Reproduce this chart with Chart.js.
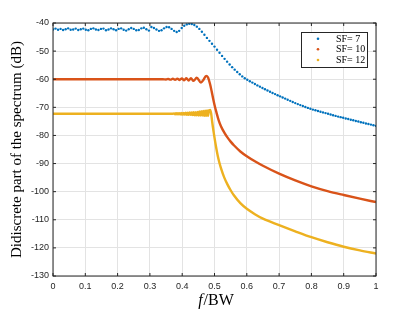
<!DOCTYPE html>
<html>
<head>
<meta charset="utf-8">
<script src="https://cdn.jsdelivr.net/npm/chart.js@4"></script>
<style>
  body { margin: 0; background: #fff; }
  canvas { display: block; }
</style>
</head>
<body>
<canvas id="spectrumChart" width="415" height="312"></canvas>
<script>
// series names and tick labels
const SERIES_LABELS = ['SF= 7', 'SF= 10', 'SF= 12'];
const X_TICK_LABELS = ['0', '0.1', '0.2', '0.3', '0.4', '0.5', '0.6', '0.7', '0.8', '0.9', '1'];
const Y_TICK_LABELS = ['-130', '-120', '-110', '-100', '-90', '-80', '-70', '-60', '-50', '-40'];

// SF = 7 : one dot per frequency bin (129 bins from 0 to 1)
const SF7_DB = [
  -42.3, -42.0, -42.4, -42.1, -42.5, -42.2, -41.9, -42.4, -42.3, -42.0,
  -42.5, -42.2, -42.0, -42.4, -42.6, -42.1, -41.9, -42.3, -42.5, -42.1,
  -42.0, -42.6, -42.3, -41.9, -42.2, -42.6, -42.1, -41.9, -42.4, -42.7,
  -42.2, -41.8, -42.1, -42.6, -42.5, -41.9, -41.7, -42.2, -42.7,
  -41.4, -41.8, -42.3, -42.8, -42.6, -41.9, -41.4, -41.5, -42.1, -42.8,
  -43.2, -42.8, -41.8, -41.0, -40.5, -40.3, -40.4, -40.7, -41.3, -42.1,
  -43.1, -44.2, -45.3, -46.35, -47.4,
  -48.4, -49.5, -50.6, -51.7, -52.75, -53.75, -54.75, -55.7, -56.6, -57.45,
  -58.25, -59.0, -59.65, -60.2, -60.7, -61.2, -61.7, -62.2, -62.65, -63.1,
  -63.55, -64.0, -64.45, -64.9, -65.3, -65.7, -66.1, -66.5, -66.9, -67.3,
  -67.7, -68.1, -68.5, -68.85, -69.2, -69.55, -69.9, -70.2, -70.5, -70.8,
  -71.05, -71.3, -71.55, -71.8, -72.05, -72.3, -72.55, -72.8, -73.05, -73.3,
  -73.5, -73.7, -73.95, -74.15, -74.4, -74.6, -74.85, -75.05, -75.3, -75.5,
  -75.75, -75.95, -76.15, -76.4, -76.6
];
const SF7_BINS = 128;

// SF = 10
const SF10_F = [0, 0.1, 0.2, 0.3, 0.34, 0.35, 0.357, 0.364, 0.371, 0.378, 0.385, 0.392, 0.399,
  0.406, 0.413, 0.42, 0.427, 0.435, 0.445, 0.458, 0.466, 0.474, 0.48, 0.486, 0.491, 0.496,
  0.501, 0.506, 0.513, 0.52, 0.53, 0.54, 0.55, 0.56, 0.58, 0.6, 0.625, 0.65, 0.7, 0.75,
  0.8, 0.85, 0.9, 0.95, 1.0];
const SF10_DB = [-60, -60, -60, -60, -60, -60.1, -59.9, -60.15, -59.85, -60.2, -59.8, -60.25, -59.75,
  -60.35, -59.65, -60.45, -59.6, -60.6, -59.5, -61.2, -60.2, -58.8, -59.4, -61.6, -64.2, -67.0,
  -69.6, -71.8, -74.6, -76.7, -78.9, -80.7, -82.2, -83.5, -85.7, -87.4, -89.2, -90.8, -93.6, -96.0,
  -98.1, -99.8, -101.2, -102.5, -103.7];

// SF = 12
const SF12_F = [0, 0.1, 0.2, 0.3, 0.37,
  0.375, 0.378, 0.381, 0.384, 0.387, 0.39, 0.393, 0.396, 0.399, 0.402, 0.405, 0.408,
  0.411, 0.414, 0.417, 0.42, 0.423, 0.426, 0.429, 0.432, 0.435, 0.438, 0.441, 0.444,
  0.447, 0.45, 0.453, 0.456, 0.459, 0.462, 0.465, 0.468, 0.471, 0.474, 0.477, 0.48, 0.483,
  0.487, 0.49, 0.493, 0.497, 0.5, 0.505, 0.51, 0.515, 0.52, 0.53, 0.54, 0.55, 0.56, 0.58,
  0.6, 0.625, 0.65, 0.7, 0.75, 0.8, 0.85, 0.9, 0.95, 1.0];
const SF12_DB = [-72.3, -72.3, -72.3, -72.3, -72.3,
  -72.15, -72.45, -72.1, -72.5, -72.1, -72.5, -72.05, -72.55, -72.0, -72.6, -72.0, -72.6,
  -71.95, -72.65, -71.9, -72.7, -71.85, -72.7, -71.8, -72.75, -71.75, -72.8, -71.7, -72.85,
  -71.6, -72.9, -71.5, -72.9, -71.4, -72.95, -71.3, -73.0, -71.2, -73.0, -71.1, -73.0, -71.0,
  -70.9, -72.5, -75.3, -78.5, -80.8, -84.2, -87.2, -89.6, -91.6, -94.9, -97.4, -99.5, -101.3, -104.1,
  -106.1, -108.0, -109.6, -111.9, -114.1, -116.2, -118.0, -119.6, -120.9, -122.0];

const COLORS = ['#0072BD', '#D95319', '#EDB120'];
const AXIS_COLOR = '#262626';

const sf7Points = SF7_DB.map((v, i) => ({ x: i / SF7_BINS, y: v }));
const sf10Points = SF10_F.map((f, i) => ({ x: f, y: SF10_DB[i] }));
const sf12Points = SF12_F.map((f, i) => ({ x: f, y: SF12_DB[i] }));

// frame with inward ticks, axis titles and the boxed legend (MATLAB look)
const matlabFrame = {
  id: 'matlabFrame',
  afterDatasetsDraw(chart) {
    const { ctx, chartArea: a, scales } = chart;
    ctx.save();
    ctx.strokeStyle = AXIS_COLOR;
    ctx.lineWidth = 1;
    ctx.strokeRect(a.left, a.top, a.right - a.left, a.bottom - a.top);
    const tl = 3;
    ctx.beginPath();
    scales.x.ticks.forEach(t => {
      const px = scales.x.getPixelForValue(t.value);
      ctx.moveTo(px, a.bottom); ctx.lineTo(px, a.bottom - tl);
      ctx.moveTo(px, a.top); ctx.lineTo(px, a.top + tl);
    });
    scales.y.ticks.forEach(t => {
      const py = scales.y.getPixelForValue(t.value);
      ctx.moveTo(a.left, py); ctx.lineTo(a.left + tl, py);
      ctx.moveTo(a.right, py); ctx.lineTo(a.right - tl, py);
    });
    ctx.stroke();

    // axis titles
    ctx.fillStyle = '#000';
    ctx.textBaseline = 'middle';
    const cx = (a.left + a.right) / 2;
    ctx.font = 'italic 16px "Liberation Serif"';
    const fW = ctx.measureText('f').width;
    ctx.font = '16px "Liberation Serif"';
    const restW = ctx.measureText('/BW').width;
    const x0 = cx - (fW + restW) / 2 + 1;
    ctx.font = 'italic 16px "Liberation Serif"';
    ctx.textAlign = 'left';
    ctx.fillText('f', x0, 301);
    ctx.font = '16px "Liberation Serif"';
    ctx.fillText('/BW', x0 + fW + 1, 301);

    ctx.save();
    ctx.translate(17, (a.top + a.bottom) / 2);
    ctx.rotate(-Math.PI / 2);
    ctx.textAlign = 'center';
    ctx.font = '15px "Liberation Serif"';
    ctx.fillText('Didiscrete part of the spectrum (dB)', 0, 0);
    ctx.restore();

    // legend
    const bx = 301, by = 32, bw = 66, bh = 35;
    ctx.fillStyle = '#fff';
    ctx.fillRect(bx, by, bw, bh);
    ctx.strokeStyle = AXIS_COLOR;
    ctx.strokeRect(bx + 0.5, by + 0.5, bw, bh);
    const rows = [38.7, 49.2, 60];
    ctx.font = '10px "Liberation Serif"';
    ctx.textAlign = 'left';
    chart.data.datasets.forEach((ds, k) => {
      ctx.fillStyle = ds.borderColor;
      ctx.beginPath();
      ctx.arc(318, rows[k], 1.3, 0, Math.PI * 2);
      ctx.fill();
      ctx.fillStyle = '#000';
      ctx.fillText(ds.label, 336, rows[k] + 0.5);
    });
    ctx.restore();
  }
};

const ctx = document.getElementById('spectrumChart').getContext('2d');
const spectrumChart = new Chart(ctx, {
  type: 'line',
  data: {
    datasets: [
      {
        label: SERIES_LABELS[0],
        data: sf7Points,
        showLine: false,
        borderColor: COLORS[0],
        backgroundColor: COLORS[0],
        pointRadius: 1.2,
        pointBorderWidth: 0,
        order: 3
      },
      {
        label: SERIES_LABELS[1],
        data: sf10Points,
        borderColor: COLORS[1],
        backgroundColor: COLORS[1],
        borderWidth: 2.4,
        pointRadius: 0,
        cubicInterpolationMode: 'monotone',
        order: 2
      },
      {
        label: SERIES_LABELS[2],
        data: sf12Points,
        borderColor: COLORS[2],
        backgroundColor: COLORS[2],
        borderWidth: 2.4,
        pointRadius: 0,
        cubicInterpolationMode: 'monotone',
        order: 1
      }
    ]
  },
  options: {
    responsive: false,
    animation: false,
    layout: { padding: { top: 23, right: 39, left: 0, bottom: 0 } },
    plugins: {
      legend: { display: false },
      tooltip: { enabled: false }
    },
    scales: {
      x: {
        type: 'linear',
        min: 0,
        max: 1,
        afterFit: s => { s.height = 36; },
        grid: { color: '#e3e3e3', drawTicks: false },
        border: { display: false },
        ticks: {
          stepSize: 0.1,
          padding: 5,
          color: AXIS_COLOR,
          font: { family: 'Liberation Sans', size: 9 },
          maxRotation: 0,
          callback: (v, i) => X_TICK_LABELS[i]
        }
      },
      y: {
        min: -130,
        max: -40,
        afterFit: s => { s.width = 53; },
        grid: { color: '#e3e3e3', drawTicks: false },
        border: { display: false },
        ticks: {
          stepSize: 10,
          padding: 4,
          color: AXIS_COLOR,
          font: { family: 'Liberation Sans', size: 9 },
          callback: (v, i) => Y_TICK_LABELS[i]
        }
      }
    }
  },
  plugins: [matlabFrame]
});
</script>
</body>
</html>
